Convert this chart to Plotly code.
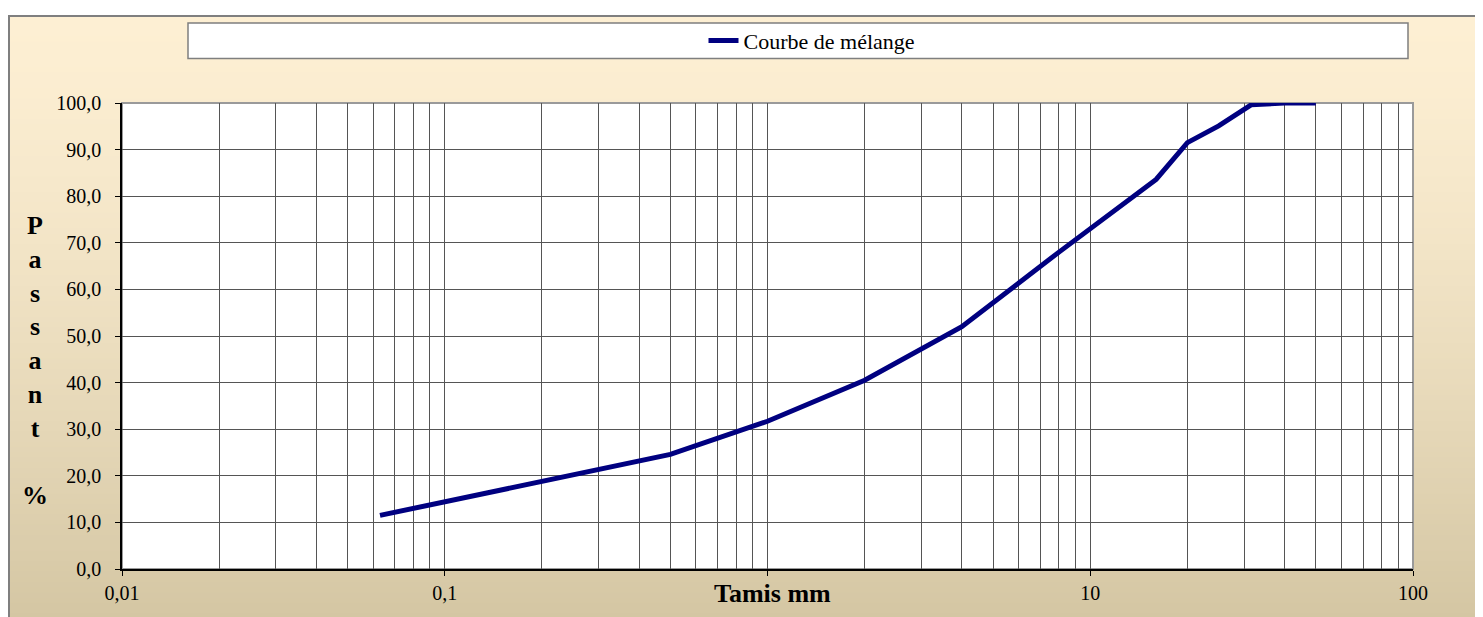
import plotly.graph_objects as go

# ---- data ----
sieve_mm = [0.063, 0.5, 1, 2, 4, 8, 16, 20, 25, 31.5, 40, 50]
passing_pct = [11.5, 24.6, 31.7, 40.5, 52.0, 68.0, 83.6, 91.5, 95.1, 99.6, 100.0, 100.0]
series_name = "Courbe de mélange"
x_tick_vals = [0.01, 0.1, 1, 10, 100]
x_tick_text = ["0,01", "0,1", "", "10", "100"]
y_tick_vals = [0, 10, 20, 30, 40, 50, 60, 70, 80, 90, 100]
y_tick_text = ["0,0", "10,0", "20,0", "30,0", "40,0", "50,0", "60,0", "70,0", "80,0", "90,0", "100,0"]
x_title = "Tamis mm"
y_title_letters = ["P", "a", "s", "s", "a", "n", "t", "", "%"]

# ---- layout geometry (screen pixels of the reference) ----
W, H = 1483, 617
OFF = 8  # page body margin
L, R, T, B = 122, 1413, 97, 569


def xp(px):
    return (px - L) / (R - L)


def yp(py):
    return (B - py) / (B - T)


FONT = "Liberation Serif, Times New Roman, serif"
GRID = "#555555"

shapes = []
# background gradient of the chart area (strips)
top_c = (253, 239, 211)
bot_c = (212, 198, 163)
y_start, y_end = 8, 640
n = 120
step = (y_end - y_start) / n
for i in range(n):
    y0 = y_start + i * step
    y1 = y0 + step + 0.8
    t = min(1.0, ((y0 + step / 2 - 7) / 612) ** 1.4)
    c = tuple(round(a + (b - a) * t) for a, b in zip(top_c, bot_c))
    shapes.append(dict(type="rect", xref="paper", yref="paper",
                       x0=xp(8), x1=xp(1480), y0=yp(y1), y1=yp(y0),
                       fillcolor="rgb(%d,%d,%d)" % c, line=dict(width=0), layer="below"))
# outer border
shapes.append(dict(type="rect", xref="paper", yref="paper",
                   x0=xp(9), x1=xp(1479), y0=yp(640), y1=yp(9),
                   fillcolor="rgba(0,0,0,0)", line=dict(color="#7f7f7f", width=2), layer="below"))
# white plot area with grey frame
shapes.append(dict(type="rect", xref="paper", yref="paper", x0=0, x1=1, y0=0, y1=1,
                   fillcolor="white", line=dict(color="#9a9a9a", width=2), layer="below"))
# legend box
shapes.append(dict(type="rect", xref="paper", yref="paper",
                   x0=xp(188), x1=xp(1408), y0=yp(52), y1=yp(16),
                   fillcolor="white", line=dict(color="#7f7f7f", width=1.5), layer="below"))

minor_vals = [m * 10 ** e for e in range(-2, 2) for m in range(2, 10)]

fig = go.Figure()
fig.add_trace(go.Scatter(x=sieve_mm, y=passing_pct, mode="lines", name=series_name,
                         line=dict(color="#000080", width=5), showlegend=True))

fig.update_layout(
    width=W, height=H, autosize=False,
    margin=dict(l=L - OFF, r=W - (R - OFF), t=T - OFF, b=H - (B - OFF), pad=0),
    paper_bgcolor="white", plot_bgcolor="rgba(0,0,0,0)",
    shapes=shapes,
    showlegend=True,
    legend=dict(x=xp(812), y=yp(34), xanchor="center", yanchor="middle",
                bgcolor="rgba(0,0,0,0)", borderwidth=0, orientation="h",
                font=dict(family=FONT, size=22, color="black")),
    xaxis=dict(type="log", range=[-2, 2], tickvals=x_tick_vals, ticktext=x_tick_text,
               showgrid=True, gridcolor=GRID, gridwidth=1, zeroline=False,
               ticks="outside", ticklen=5, tickcolor="black", tickwidth=1,
               showline=True, linecolor="black", linewidth=1.5,
               tickfont=dict(family=FONT, size=20, color="black"),
               minor=dict(tickvals=minor_vals, showgrid=True, gridcolor=GRID, gridwidth=1, ticks="")),
    yaxis=dict(range=[0, 100], tickvals=y_tick_vals, ticktext=y_tick_text,
               showgrid=True, gridcolor=GRID, gridwidth=1, zeroline=False,
               ticks="outside", ticklen=5, tickcolor="black", tickwidth=1,
               showline=True, linecolor="black", linewidth=1.5,
               ticklabelstandoff=10,
               tickfont=dict(family=FONT, size=20, color="black")),
    annotations=[
        dict(text=x_title, xref="paper", yref="paper", x=xp(772), y=yp(594),
             xanchor="center", yanchor="middle", showarrow=False,
             font=dict(family=FONT, size=26, color="black", weight="bold")),
        dict(text="<br>".join(y_title_letters), xref="paper", yref="paper", x=xp(35), y=yp(358),
             xanchor="center", yanchor="middle", showarrow=False, align="center",
             font=dict(family=FONT, size=26, color="black", weight="bold")),
    ],
)

fig.write_html("out.html")
